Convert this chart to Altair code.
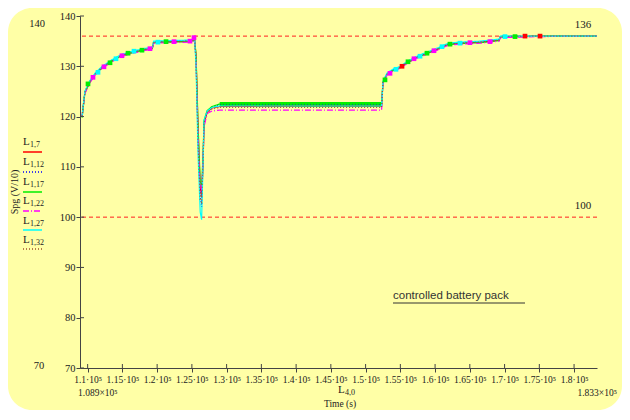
import altair as alt
import pandas as pd

# ---------------- data ----------------
series_names = ["L1,7", "L1,12", "L1,17", "L1,22", "L1,27", "L1,32"]
series_colors = ["#FF0000", "#0000FF", "#00EE00", "#FF00FF", "#00FFFF", "#A0522D"]
series_dash = [[1, 0], [1, 2], [1, 0], [6, 2, 1, 2], [1, 0], [1, 2]]

time_s = [109200, 109600, 110300, 111100, 112100, 113500, 114900, 116500, 118000, 119300,
          119500, 121900, 124400, 125400, 125600, 125900, 126200, 126400, 126600, 126750,
          127200, 127900, 129000, 140000, 152300, 152500, 153100, 153900, 155000, 156000,
          157400, 158800, 160300, 161900, 163600, 166500, 169200, 169400, 175100, 183300]

v_red = [120.0, 124.8, 126.9, 128.5, 129.8, 131.1, 132.2, 132.8, 133.3, 133.6,
         134.8, 134.9, 135.0, 135.2, 132.0, 117.0, 106.0, 104.0, 110.0, 118.5,
         120.9, 121.7, 122.0, 122.1, 122.1, 126.8, 128.5, 129.2, 129.8, 130.8,
         131.8, 132.6, 133.4, 134.4, 134.6, 134.8, 135.2, 135.9, 136.0, 136.0]
v_blue = [120.2, 124.9, 127.0, 128.6, 129.9, 131.2, 132.3, 132.9, 133.4, 133.7,
          134.9, 135.0, 135.1, 135.3, 131.0, 115.0, 104.0, 102.0, 111.0, 119.0,
          121.0, 121.9, 122.4, 122.4, 122.4, 126.9, 128.6, 129.3, 129.9, 130.9,
          131.9, 132.7, 133.5, 134.5, 134.7, 134.9, 135.3, 136.0, 136.0, 136.0]
v_green = [119.8, 124.7, 126.8, 128.4, 129.7, 131.0, 132.1, 132.7, 133.2, 133.5,
           134.7, 134.8, 134.9, 135.1, 132.5, 118.0, 107.0, 106.0, 112.0, 119.2,
           121.2, 122.0, 122.5, 122.5, 122.5, 126.7, 128.4, 129.1, 129.7, 130.7,
           131.7, 132.5, 133.3, 134.3, 134.5, 134.7, 135.1, 135.8, 136.0, 136.0]
v_magenta = [120.1, 124.6, 126.7, 128.3, 129.6, 130.9, 132.0, 132.6, 133.1, 133.4,
             134.6, 134.7, 134.8, 135.0, 131.5, 116.0, 105.0, 105.5, 111.0, 118.0,
             120.6, 121.1, 121.3, 121.3, 121.3, 126.6, 128.3, 129.0, 129.6, 130.6,
             131.6, 132.4, 133.2, 134.2, 134.4, 134.6, 135.0, 135.7, 135.9, 136.0]
v_cyan = [120.0, 125.0, 127.1, 128.7, 130.0, 131.3, 132.4, 133.0, 133.5, 133.8,
          135.0, 135.1, 135.2, 135.4, 130.0, 112.0, 101.0, 99.5, 110.0, 119.3,
          121.1, 121.8, 122.1, 122.1, 122.1, 127.0, 128.7, 129.4, 130.0, 131.0,
          132.0, 132.8, 133.6, 134.6, 134.8, 135.0, 135.4, 136.0, 136.0, 136.0]
v_brown = [120.1, 124.8, 126.9, 128.5, 129.8, 131.1, 132.2, 132.8, 133.3, 133.6,
           134.8, 134.9, 135.0, 135.2, 131.0, 114.0, 103.5, 103.0, 110.5, 118.8,
           120.8, 121.5, 121.8, 121.8, 121.8, 126.8, 128.5, 129.2, 129.8, 130.8,
           131.8, 132.6, 133.4, 134.4, 134.6, 134.8, 135.2, 135.9, 136.0, 136.0]

# thick green band in the middle plateau
band_t0 = [129000]
band_t1 = [152300]
band_lo = [121.9]
band_hi = [122.9]

# small coloured square markers along the rising parts
marker_t = [110050, 110770, 111490, 112350, 113220, 114080, 114940, 115810, 116670, 117820,
            118970, 120120, 121280, 122430, 124730, 125300,
            152790, 153510, 154370, 155240, 156100, 156960, 157830, 158830, 159840, 160990,
            162140, 163580, 165020, 167900, 170060, 171500, 172940, 175100]
marker_v = [126.5, 127.8, 128.8, 129.9, 130.7, 131.5, 132.1, 132.6, 133.0, 133.2,
            133.5, 134.8, 134.9, 134.9, 135.0, 135.7,
            127.3, 128.6, 129.4, 130.0, 130.9, 131.5, 132.0, 132.6, 133.1, 133.9,
            134.4, 134.6, 134.7, 134.9, 135.9, 135.9, 136.0, 136.0]
marker_col = ["#00EE00", "#FF00FF", "#00FFFF", "#FF00FF", "#00EE00", "#00FFFF", "#FF00FF", "#00EE00",
              "#00FFFF", "#00EE00", "#FF00FF", "#00FFFF", "#00EE00", "#FF00FF", "#FF00FF", "#FF00FF",
              "#00EE00", "#FF00FF", "#00FFFF", "#FF0000", "#00EE00", "#FF00FF", "#00FFFF", "#00EE00",
              "#FF00FF", "#00FFFF", "#00EE00", "#00FFFF", "#FF00FF", "#FF00FF", "#00FFFF", "#00EE00",
              "#FF0000", "#FF0000"]

ref_values = [136, 100]
ref_labels = ["136", "100"]

x_ticks = [110000, 115000, 120000, 125000, 130000, 135000, 140000, 145000,
           150000, 155000, 160000, 165000, 170000, 175000, 180000]
y_ticks = [70, 80, 90, 100, 110, 120, 130, 140]

# ---------------- build tables ----------------
all_vals = [v_red, v_blue, v_green, v_magenta, v_cyan, v_brown]
rows = []
for name, vals in zip(series_names, all_vals):
    for t, v in zip(time_s, vals):
        rows.append({"series": name, "t": t, "v": v})
df = pd.DataFrame(rows)

W, H = 517, 352
AXC = "#444444"
SERIF = "Liberation Serif"

xsc = alt.Scale(domain=[108900, 183300], nice=False, zero=False)
ysc = alt.Scale(domain=[70, 140], nice=False, zero=False)

panel = alt.Chart(pd.DataFrame({"a": [0]})).mark_rect(
    cornerRadius=24, color="#FFFFA6"
).encode(x=alt.value(-72), x2=alt.value(W + 25), y=alt.value(-8), y2=alt.value(H + 42))

xaxis = alt.Axis(values=x_ticks, labelExpr="format(datum.value/100000, '.3~g') + '·10⁵'",
                 labelFont=SERIF, labelFontSize=9.5, labelColor="#222", labelOverlap=False,
                 tickSize=4, tickColor=AXC, domainColor=AXC, grid=False, title=None,
                 labelPadding=2, zindex=1)
yaxis = alt.Axis(values=y_ticks, labelFont=SERIF, labelFontSize=10.5, labelColor="#222",
                 tickSize=4, tickColor=AXC, domainColor=AXC, grid=False, title=None,
                 labelPadding=1, zindex=1)

lines = alt.Chart(df).mark_line(strokeWidth=1.2, clip=True).encode(
    x=alt.X("t:Q", scale=xsc, axis=xaxis),
    y=alt.Y("v:Q", scale=ysc, axis=yaxis),
    color=alt.Color("series:N", scale=alt.Scale(domain=series_names, range=series_colors), legend=None),
    strokeDash=alt.StrokeDash("series:N", scale=alt.Scale(domain=series_names, range=series_dash), legend=None),
)

band = alt.Chart(pd.DataFrame({"t0": band_t0, "t1": band_t1, "lo": band_lo, "hi": band_hi})).mark_rect(
    color="#00EE00"
).encode(x=alt.X("t0:Q", scale=xsc, axis=xaxis), x2="t1:Q", y=alt.Y("lo:Q", scale=ysc, axis=yaxis), y2="hi:Q")

markers = alt.Chart(pd.DataFrame({"t": marker_t, "v": marker_v, "c": marker_col})).mark_square(
    size=22, opacity=1
).encode(x=alt.X("t:Q", scale=xsc, axis=xaxis), y=alt.Y("v:Q", scale=ysc, axis=yaxis),
         color=alt.Color("c:N", scale=None, legend=None))

refdf = pd.DataFrame({"v": ref_values, "lab": ref_labels})
refs = alt.Chart(refdf).mark_rule(color="#FF2020", strokeDash=[4, 3], strokeWidth=1).encode(
    y=alt.Y("v:Q", scale=ysc, axis=yaxis))
reflab = alt.Chart(refdf).mark_text(font=SERIF, fontSize=11, color="#222", dy=-11).encode(
    y=alt.Y("v:Q", scale=ysc, axis=yaxis), x=alt.value(503), text="lab:N")

xin = alt.Chart(pd.DataFrame({"t": x_ticks})).mark_rule(color=AXC).encode(
    x=alt.X("t:Q", scale=xsc, axis=xaxis), y=alt.value(H - 4), y2=alt.value(H))
yin = alt.Chart(pd.DataFrame({"v": y_ticks})).mark_rule(color=AXC).encode(
    y=alt.Y("v:Q", scale=ysc, axis=yaxis), x=alt.value(0), x2=alt.value(4))


def txt(s, x, y, size=11, font=SERIF, align="left", angle=0, color="#222"):
    return alt.Chart(pd.DataFrame({"s": [s]})).mark_text(
        align=align, baseline="middle", font=font, fontSize=size, angle=angle, color=color
    ).encode(x=alt.value(x), y=alt.value(y), text="s:N")


texts = []
# legend at left
leg_subs = ["1,7", "1,12", "1,17", "1,22", "1,27", "1,32"]
leg_text_y = [142, 162, 182, 201, 221, 240]
leg_line_y = [152, 172, 192, 211, 230, 249]
for sub, ty, ly, col, dash in zip(leg_subs, leg_text_y, leg_line_y, series_colors, series_dash):
    texts.append(txt("L", -57, ty - 16, size=11))
    texts.append(txt(sub, -50, ty - 13, size=8))
    texts.append(alt.Chart(pd.DataFrame({"a": [0]})).mark_rule(color=col, strokeDash=dash, strokeWidth=1.3).encode(
        x=alt.value(-57), x2=alt.value(-38), y=alt.value(ly - 16)))

texts.append(txt("Spg (V/10)", -65, 176, size=10, align="center", angle=270))
texts.append(txt("140", -43, 8, size=10.5, align="center"))
texts.append(txt("70", -41, 350, size=10.5, align="center"))
texts.append(txt("1.089×10⁵", -2, 377, size=9.5))
texts.append(txt("1.833×10⁵", 537, 377, size=9.5, align="right"))
texts.append(txt("L", 258, 374, size=11))
texts.append(txt("4,0", 265, 377, size=8))
texts.append(txt("Time (s)", 260, 388, size=9.5, align="center"))
texts.append(txt("controlled battery pack", 313, 280, size=11.5, font="Liberation Sans", color="#333"))
texts.append(alt.Chart(pd.DataFrame({"a": [0]})).mark_rule(color="#333", strokeWidth=1).encode(
    x=alt.value(313), x2=alt.value(445), y=alt.value(287)))

chart = alt.layer(panel, refs, band, lines, markers, xin, yin, reflab, *texts).properties(
    width=W, height=H,
    padding={"left": 72, "top": 8, "right": 25, "bottom": 42},
    autosize=alt.AutoSizeParams(type="none"),
    background="white",
).configure_view(stroke=None).configure_axis(zindex=1)

chart.save("out.html", embed_options={"renderer": "svg", "actions": False})
